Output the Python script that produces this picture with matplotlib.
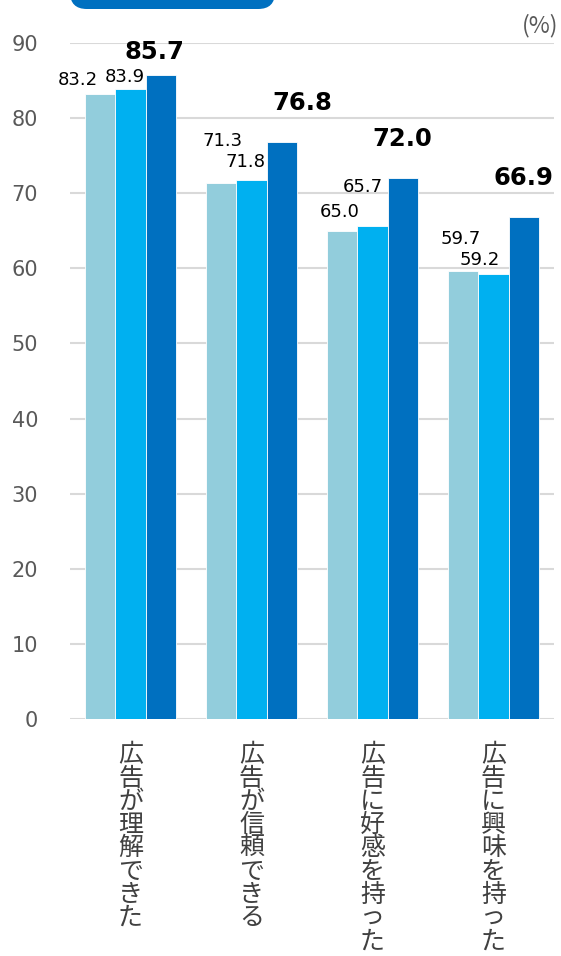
import matplotlib.pyplot as plt
from matplotlib.patches import FancyBboxPatch
import numpy as np

plt.rcParams['font.family'] = ['DejaVu Sans', 'Noto Sans CJK JP']

categories = ['広告が理解できた', '広告が信頼できる', '広告に好感を持った', '広告に興味を持った']
series_a = [83.2, 71.3, 65.0, 59.7]
series_b = [83.9, 71.8, 65.7, 59.2]
series_c = [85.7, 76.8, 72.0, 66.9]
yticks = [0, 10, 20, 30, 40, 50, 60, 70, 80, 90]

colors = ['#92CDDC', '#00B0F0', '#0070C0']
# label offsets in pixels (dx, dy) from the top center of each bar
offs_a = [(-22, 14), (1, 42), (-3, 19), (-3, 32)]
offs_b = [(-6, 12), (-6, 18), (-10, 39), (-14, 14)]
offs_c = [(-6, 23), (21, 39), (0, 39), (0, 39)]

fig = plt.figure(figsize=(5.61, 9.56), dpi=100)
ax = fig.add_axes([70/561, 1-719/956, 484/561, 676/956])

x = np.arange(len(categories))
w = 0.25
allseries = [series_a, series_b, series_c]
alloffs = [offs_a, offs_b, offs_c]
for i in range(3):
    vals = allseries[i]
    ax.bar(x + (i-1)*w, vals, w, color=colors[i], edgecolor='white', linewidth=0.6, zorder=3)
    for j in range(len(vals)):
        dx, dy = alloffs[i][j]
        if i == 2:
            fs, fw = 17.5, 'bold'
        else:
            fs, fw = 13, 'normal'
        ax.annotate('{:.1f}'.format(vals[j]), (x[j] + (i-1)*w, vals[j]),
                    xytext=(dx, dy), textcoords='offset pixels',
                    ha='center', va='center', fontsize=fs, fontweight=fw,
                    color='black', zorder=4)

ax.set_xlim(-0.5, 3.5)
ax.set_ylim(0, 90)
ax.set_yticks(yticks)
ax.set_yticklabels([str(v) for v in yticks], fontsize=15, color='#595959')
ax.tick_params(axis='y', length=0, pad=23)
ax.set_xticks(x)
ax.set_xticklabels(['\n'.join(list(c)) for c in categories],
                   family=['Noto Sans CJK JP'], fontsize=18, color='#404040',
                   linespacing=0.86, va='top')
ax.tick_params(axis='x', length=0, pad=17)
ax.grid(axis='y', color='#D9D9D9', linewidth=1.5, zorder=0)
ax.set_axisbelow(True)
for s in ax.spines.values():
    s.set_visible(False)

fig.text(558/561, 1-26/956, '(%)', ha='right', va='center', fontsize=16.5,
         color='#595959', family=['Noto Sans CJK JP', 'DejaVu Sans'])

box = FancyBboxPatch((70/561, 1-9/956), 205/561, 40/956,
                     boxstyle='round,pad=0,rounding_size=0.03',
                     transform=fig.transFigure, facecolor='#0070C0',
                     edgecolor='none', mutation_aspect=561/956)
fig.patches.append(box)

fig.savefig('out.png', dpi=100)
